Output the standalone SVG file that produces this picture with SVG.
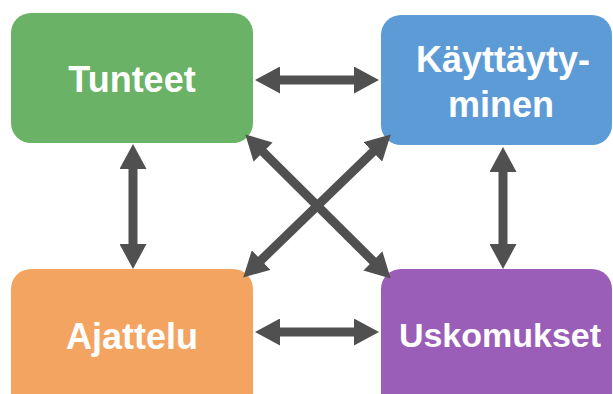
<svg xmlns="http://www.w3.org/2000/svg" width="613" height="394" viewBox="0 0 613 394">
<style>
.lbl{font-family:"Liberation Sans",Arial,sans-serif;font-weight:bold;font-size:36px;fill:#ffffff;text-anchor:middle}
.arr{stroke:#505050;stroke-width:9;fill:none;marker-start:url(#ah);marker-end:url(#ah)}
</style>
<defs>
<marker id="ah" markerUnits="userSpaceOnUse" markerWidth="25" markerHeight="27" viewBox="0 0 25 27" refX="10" refY="13.5" orient="auto-start-reverse">
<path d="M0,0 L25,13.5 L0,27 z" fill="#505050"/>
</marker>
</defs>
<rect width="613" height="394" fill="#ffffff"/>
<g id="tunteet">
<rect x="11" y="13" width="242" height="130" rx="20" fill="#69b266"/>
<text class="lbl" x="132" y="92">Tunteet</text>
</g>
<g id="kayttaytyminen">
<rect x="381" y="15" width="231" height="130" rx="20" fill="#5c9bd6"/>
<text class="lbl" x="503" y="72">Käyttäyty-</text>
<text class="lbl" x="501" y="117">minen</text>
</g>
<g id="ajattelu">
<rect x="11" y="269" width="242" height="150" rx="20" fill="#f3a461"/>
<text class="lbl" x="132" y="349">Ajattelu</text>
</g>
<g id="uskomukset">
<rect x="381" y="269" width="231" height="150" rx="20" fill="#9a5db8"/>
<text class="lbl" x="500" y="347" style="font-size:34px">Uskomukset</text>
</g>
<g id="connectors">
<line class="arr" x1="270" y1="80" x2="364" y2="80"/>
<line class="arr" x1="270" y1="332" x2="364" y2="332"/>
<line class="arr" x1="133" y1="159" x2="133" y2="254"/>
<line class="arr" x1="503" y1="162" x2="503" y2="254"/>
<line class="arr" x1="256" y1="145" x2="380" y2="268"/>
<line class="arr" x1="380" y1="145" x2="254" y2="267"/>
</g>
</svg>
